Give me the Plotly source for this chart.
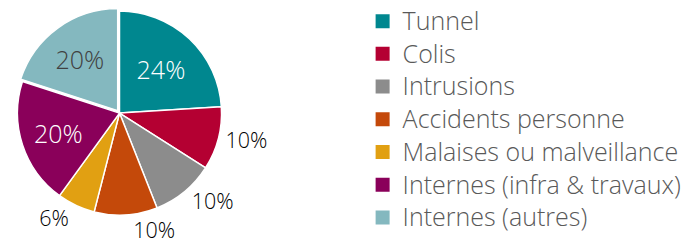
import plotly.graph_objects as go

labels = ["Tunnel", "Colis", "Intrusions", "Accidents personne",
          "Malaises ou malveillance", "Internes (infra & travaux)", "Internes (autres)"]
values = [24, 10, 10, 10, 6, 20, 20]
colors = ["#00878F", "#B40032", "#8C8C8C", "#C4490A", "#E1A012", "#8A005A", "#84B8BF"]
text_colors = ["#FFFFFF", "#595959", "#595959", "#595959", "#595959", "#FFFFFF", "#404040"]
pulls = [0, 0, 0, 0, 0, 0, 0.03]

FONT = "Open Sans"
GREY = "#595959"

fig = go.Figure()

fig.add_trace(go.Pie(
    labels=labels,
    values=values,
    sort=False,
    direction="clockwise",
    rotation=0,
    pull=pulls,
    marker=dict(colors=colors, line=dict(color="white", width=1.5)),
    textinfo="percent",
    texttemplate="%{percent:.0%}",
    textposition="auto",
    insidetextorientation="horizontal",
    textfont=dict(family=FONT, size=22, color=text_colors, weight=300),
    insidetextfont=dict(family=FONT, size=25, color=text_colors, weight=300),
    outsidetextfont=dict(family=FONT, size=21.5, color=text_colors, weight=300),
    domain=dict(x=[0.0070, 0.3134], y=[0.135, 1.0]),
    hoverinfo="label+percent",
    showlegend=False,
))

# legend entries (one square swatch per category)
for lab, col in zip(labels, colors):
    fig.add_trace(go.Scatter(
        x=[None], y=[None], mode="markers",
        name=f'<span style="font-size:25px">{lab}</span>',
        marker=dict(symbol="square", size=14, color=col),
        hoverinfo="skip",
        showlegend=True,
    ))

fig.update_layout(
    width=696, height=243,
    margin=dict(l=0, r=0, t=0, b=0, autoexpand=False),
    paper_bgcolor="white",
    plot_bgcolor="white",
    font=dict(family=FONT, color=GREY, weight=300),
    xaxis=dict(visible=False),
    yaxis=dict(visible=False),
    legend=dict(
        x=0.5095, xanchor="left",
        y=0.542, yanchor="middle",
        font=dict(family=FONT, size=22.85, color=GREY, weight=300),
        tracegroupgap=0,
        bgcolor="rgba(0,0,0,0)",
    ),
    showlegend=True,
)

fig.write_html("out.html")
